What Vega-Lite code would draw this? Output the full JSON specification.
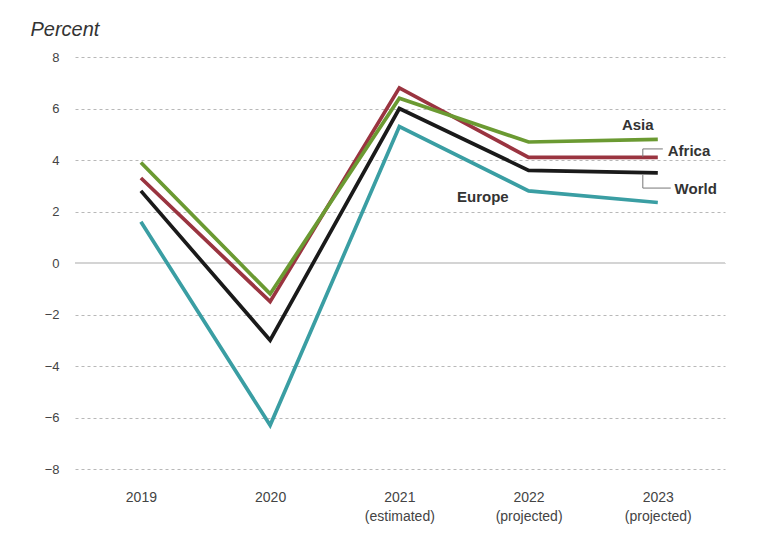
{
  "$schema": "https://vega.github.io/schema/vega-lite/v6.json",
  "width": 650,
  "height": 412,
  "autosize": "none",
  "padding": {"left": 75, "top": 57, "right": 52, "bottom": 69},
  "background": "white",
  "config": {
    "view": {"stroke": null},
    "font": "Liberation Sans"
  },
  "datasets": {
    "series": [
      {"year": 2019, "region": "Europe", "value": 1.6},
      {"year": 2020, "region": "Europe", "value": -6.3},
      {"year": 2021, "region": "Europe", "value": 5.3},
      {"year": 2022, "region": "Europe", "value": 2.8},
      {"year": 2023, "region": "Europe", "value": 2.35},
      {"year": 2019, "region": "World", "value": 2.8},
      {"year": 2020, "region": "World", "value": -3.0},
      {"year": 2021, "region": "World", "value": 6.0},
      {"year": 2022, "region": "World", "value": 3.6},
      {"year": 2023, "region": "World", "value": 3.5},
      {"year": 2019, "region": "Africa", "value": 3.3},
      {"year": 2020, "region": "Africa", "value": -1.5},
      {"year": 2021, "region": "Africa", "value": 6.8},
      {"year": 2022, "region": "Africa", "value": 4.1},
      {"year": 2023, "region": "Africa", "value": 4.1},
      {"year": 2019, "region": "Asia", "value": 3.9},
      {"year": 2020, "region": "Asia", "value": -1.2},
      {"year": 2021, "region": "Asia", "value": 6.4},
      {"year": 2022, "region": "Asia", "value": 4.7},
      {"year": 2023, "region": "Asia", "value": 4.8}
    ],
    "labels": [
      {"region": "Asia", "x": 2022.845, "y": 5.36, "align": "center"},
      {"region": "Africa", "x": 2023.077, "y": 4.35, "align": "left"},
      {"region": "World", "x": 2023.13, "y": 2.87, "align": "left"},
      {"region": "Europe", "x": 2021.646, "y": 2.56, "align": "center"}
    ],
    "leaders": [
      {"x": 2022.884, "x2": 2022.884, "y": 4.43, "y2": 4.12},
      {"x": 2022.884, "x2": 2023.039, "y": 4.43, "y2": 4.43},
      {"x": 2022.884, "x2": 2022.884, "y": 3.42, "y2": 2.91},
      {"x": 2022.884, "x2": 2023.10, "y": 2.91, "y2": 2.91}
    ]
  },
  "layer": [
    {
      "data": {"values": [{"zero": 0}]},
      "mark": {"type": "rule", "color": "#d4d4d4", "strokeWidth": 2},
      "encoding": {"y": {"field": "zero", "type": "quantitative", "scale": {"domain": [-8, 8]}}}
    },
    {
      "data": {"name": "series"},
      "mark": {"type": "line", "strokeWidth": 3.7, "strokeJoin": "miter"},
      "encoding": {
        "x": {
          "field": "year",
          "type": "quantitative",
          "scale": {"domain": [2018.49, 2023.52], "nice": false, "zero": false},
          "axis": {
            "values": [2019, 2020, 2021, 2022, 2023],
            "labelExpr": "datum.value == 2021 ? ['2021', '(estimated)'] : datum.value >= 2022 ? [toString(datum.value), '(projected)'] : toString(datum.value)",
            "title": null,
            "grid": false,
            "domain": false,
            "ticks": false,
            "labelFont": "Liberation Sans",
            "labelFontSize": 14,
            "labelColor": "#444",
            "labelPadding": 21,
            "labelLineHeight": 19,
            "labelBaseline": "top"
          }
        },
        "y": {
          "field": "value",
          "type": "quantitative",
          "scale": {"domain": [-8, 8], "nice": false},
          "axis": {
            "values": [-8, -6, -4, -2, 0, 2, 4, 6, 8],
            "labelExpr": "datum.value < 0 ? '\u2212' + toString(-datum.value) : toString(datum.value)",
            "title": "Percent",
            "titleAngle": 0,
            "titleAlign": "left",
            "titleBaseline": "alphabetic",
            "titleX": -45,
            "titleY": -22,
            "titleFont": "Liberation Sans",
            "titleFontStyle": "italic",
            "titleFontWeight": "normal",
            "titleFontSize": 20,
            "titleColor": "#333",
            "domain": false,
            "ticks": false,
            "labelFont": "Liberation Sans",
            "labelFontSize": 13,
            "labelColor": "#444",
            "labelPadding": 16,
            "grid": true,
            "gridColor": "#b8b8b8",
            "gridDash": [3, 3],
            "gridWidth": 1
          }
        },
        "color": {
          "field": "region",
          "type": "nominal",
          "scale": {
            "domain": ["Europe", "World", "Africa", "Asia"],
            "range": ["#3a9ea3", "#1a1a1a", "#9a3440", "#6b9a32"]
          },
          "legend": null
        },
        "order": {"field": "region", "sort": "descending"}
      }
    },
    {
      "data": {"name": "leaders"},
      "mark": {"type": "rule", "color": "#777", "strokeWidth": 1},
      "encoding": {
        "x": {"field": "x", "type": "quantitative"},
        "x2": {"field": "x2"},
        "y": {"field": "y", "type": "quantitative"},
        "y2": {"field": "y2"}
      }
    },
    {
      "data": {"name": "labels"},
      "transform": [{"filter": "datum.align == 'center'"}],
      "mark": {"type": "text", "fontWeight": "bold", "fontSize": 15, "color": "#333", "align": "center", "baseline": "middle"},
      "encoding": {
        "x": {"field": "x", "type": "quantitative"},
        "y": {"field": "y", "type": "quantitative"},
        "text": {"field": "region"}
      }
    },
    {
      "data": {"name": "labels"},
      "transform": [{"filter": "datum.align == 'left'"}],
      "mark": {"type": "text", "fontWeight": "bold", "fontSize": 15, "color": "#333", "align": "left", "baseline": "middle"},
      "encoding": {
        "x": {"field": "x", "type": "quantitative"},
        "y": {"field": "y", "type": "quantitative"},
        "text": {"field": "region"}
      }
    }
  ]
}
